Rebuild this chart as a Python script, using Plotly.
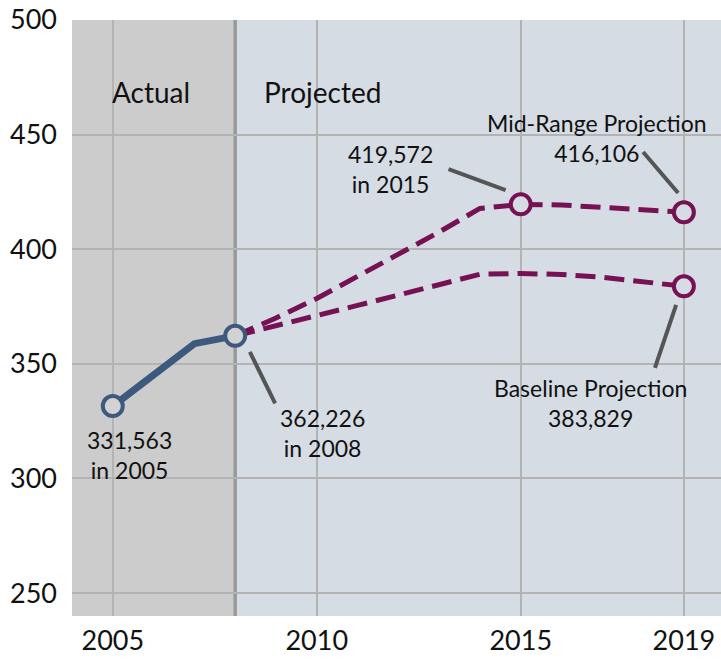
import plotly.graph_objects as go

# ---- data ----
actual_years = [2005, 2006, 2007, 2008]
actual_vals = [331.563, 345.1, 358.8, 362.226]

proj_years = [2008, 2009, 2010, 2011, 2012, 2013, 2014, 2015, 2016, 2017, 2018, 2019]
mid_vals = [362.226, 370.0, 378.5, 388.0, 397.5, 407.5, 417.8, 419.572, 419.3, 418.3, 417.3, 416.106]
base_vals = [362.226, 366.5, 371.0, 375.5, 380.0, 384.5, 389.1, 389.4, 389.0, 387.8, 386.0, 383.829]

x_ticks = [2005, 2010, 2015, 2019]
x_tick_text = ["2005", "2010", "2015", "2019"]
y_ticks = [250, 300, 350, 400, 450, 500]

BLUE = "#3d5a7e"
PURPLE = "#761254"
GREY_BG = "#cccccc"
PROJ_BG = "#d6dce4"
LEADER = "#555555"
FONT = "Lato"

fig = go.Figure()

fig.add_trace(go.Scatter(x=proj_years, y=mid_vals, mode="lines",
                         line=dict(color=PURPLE, width=5, dash="20px,9px"),
                         hoverinfo="skip", showlegend=False))
fig.add_trace(go.Scatter(x=proj_years, y=base_vals, mode="lines",
                         line=dict(color=PURPLE, width=5, dash="20px,9px"),
                         hoverinfo="skip", showlegend=False))
fig.add_trace(go.Scatter(x=actual_years, y=actual_vals, mode="lines",
                         line=dict(color=BLUE, width=7),
                         hoverinfo="skip", showlegend=False))
# markers
fig.add_trace(go.Scatter(x=[actual_years[0], actual_years[-1]], y=[actual_vals[0], actual_vals[-1]],
                         mode="markers",
                         marker=dict(size=20, color="#d2d2d2", line=dict(color=BLUE, width=4)),
                         showlegend=False))
fig.add_trace(go.Scatter(x=[proj_years[7], proj_years[-1], proj_years[-1]],
                         y=[mid_vals[7], mid_vals[-1], base_vals[-1]],
                         mode="markers",
                         marker=dict(size=20, color=PROJ_BG, line=dict(color=PURPLE, width=4)),
                         showlegend=False))

shapes = [
    dict(type="rect", xref="x", yref="paper", x0=2004, x1=2008, y0=0, y1=1,
         fillcolor=GREY_BG, line=dict(width=0), layer="below"),
    dict(type="rect", xref="x", yref="paper", x0=2008, x1=2019.91, y0=0, y1=1,
         fillcolor=PROJ_BG, line=dict(width=0), layer="below"),
    dict(type="line", xref="x", yref="paper", x0=2008, x1=2008, y0=0, y1=1,
         line=dict(color="#999999", width=3.5), layer="between"),
]
leaders = [
    (2008.36, 355.2, 2008.98, 332.8),
    (2013.23, 434.9, 2014.63, 425.8),
    (2018.00, 442.4, 2018.86, 424.5),
    (2018.81, 375.7, 2018.29, 348.2),
]
for x0, y0, x1, y1 in leaders:
    shapes.append(dict(type="line", xref="x", yref="y", x0=x0, y0=y0, x1=x1, y1=y1,
                       line=dict(color=LEADER, width=4), layer="above"))

annots = [
    (2005.94, 468.6, "Actual", 28),
    (2010.13, 468.6, "Projected", 28),
    (2005.42, 310.2, "331,563<br>in 2005", 23),
    (2010.13, 320.05, "362,226<br>in 2008", 23),
    (2011.82, 435.1, "419,572<br>in 2015", 23),
    (2016.87, 448.4, "Mid-Range Projection<br>416,106", 23),
    (2016.70, 333.1, "Baseline Projection<br>383,829", 23),
]
annotations = [dict(x=x, y=y, xref="x", yref="y", text=t, showarrow=False,
                    font=dict(family=FONT, size=s, color="#111111"),
                    align="center", xanchor="center", yanchor="middle")
               for x, y, t, s in annots]

fig.update_layout(
    width=721, height=661,
    margin=dict(l=72, r=0, t=20, b=45),
    paper_bgcolor="white", plot_bgcolor="white",
    shapes=shapes, annotations=annotations,
    font=dict(family=FONT, color="#111111"),
    xaxis=dict(range=[2004, 2019.91], tickvals=x_ticks, ticktext=x_tick_text,
               showgrid=True, gridcolor="#b3b3b3", gridwidth=2, zeroline=False,
               showline=False, ticks="", tickfont=dict(size=27, family=FONT),
               ticklabelstandoff=6, automargin=False),
    yaxis=dict(range=[240, 500], tickvals=y_ticks,
               showgrid=True, gridcolor="#b3b3b3", gridwidth=2, zeroline=False,
               showline=False, ticks="", tickfont=dict(size=27, family=FONT),
               ticklabelstandoff=14, automargin=False),
)

fig.write_html("out.html", config={"displayModeBar": False},
               post_script="document.body.style.margin='0';document.body.style.overflow='hidden';")
